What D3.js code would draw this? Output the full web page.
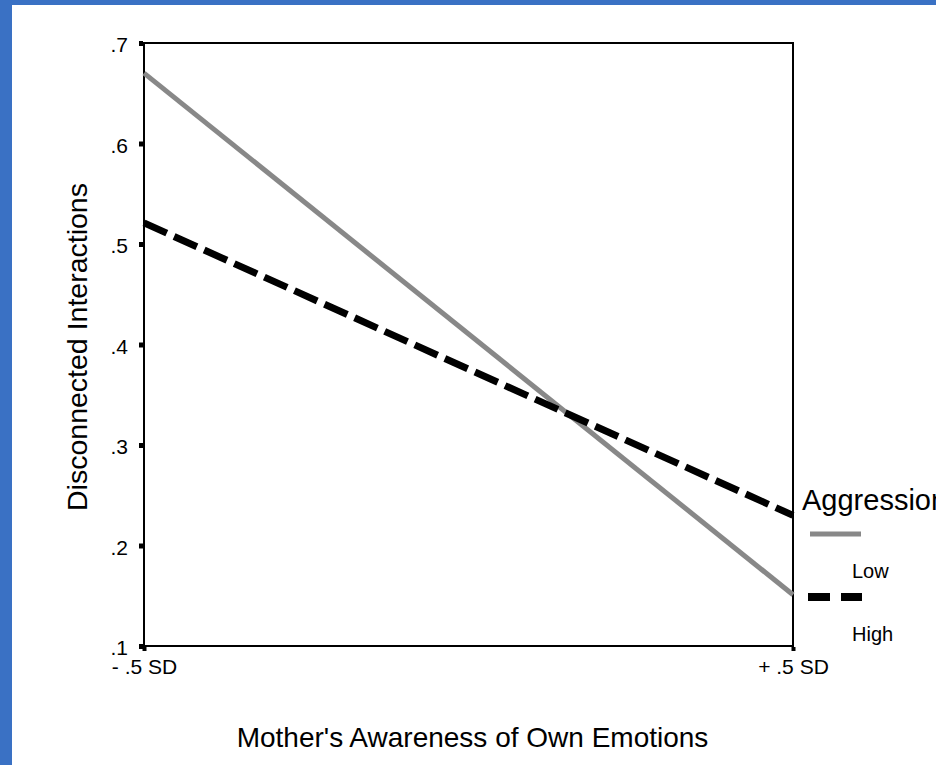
<!DOCTYPE html>
<html>
<head>
<meta charset="utf-8">
<script src="https://cdn.jsdelivr.net/npm/d3@7"></script>
<style>
  body { margin: 0; background: #fff; overflow: hidden; }
  svg { display: block; font-family: "Liberation Sans", Arial, sans-serif; }
</style>
</head>
<body>
<svg></svg>
<script>
let width = 936;
let height = 765;

// data
let xLabels = ['- .5 SD', '+ .5 SD'];
let groups = ['Low', 'High'];
let lowValues = [0.670, 0.151];
let highValues = [0.521, 0.230];
let yTicks = [0.1, 0.2, 0.3, 0.4, 0.5, 0.6, 0.7];

let plotLeft = 144, plotRight = 793, plotTop = 43, plotBottom = 646;

let svg = d3.select('svg')
  .attr('width', width)
  .attr('height', height)

// blue border strips
svg.append('rect').attr('x', 0).attr('y', 0).attr('width', width).attr('height', 5).attr('fill', '#3a71c4')
svg.append('rect').attr('x', 0).attr('y', 0).attr('width', 12).attr('height', height).attr('fill', '#3a71c4')

let xScale = d3.scalePoint()
  .domain(xLabels)
  .range([plotLeft, plotRight])

let yScale = d3.scaleLinear()
  .domain([0.1, 0.7])
  .range([plotBottom, plotTop])

// frame
svg.append('rect')
  .attr('x', plotLeft).attr('y', plotTop)
  .attr('width', plotRight - plotLeft).attr('height', plotBottom - plotTop)
  .attr('fill', 'none').attr('stroke', '#000').attr('stroke-width', 2)

let yAxis = d3.axisLeft(yScale)
  .tickValues(yTicks)
  .tickSize(4)
  .tickPadding(11)
  .tickFormat(d => d3.format('.1f')(d).replace(/^0/, ''))

let gy = svg.append('g')
  .attr('transform', `translate(${plotLeft - 1}, 0)`)
  .call(yAxis)
gy.select('.domain').remove()
gy.selectAll('.tick line').attr('stroke-width', 5)
gy.selectAll('.tick text').attr('font-size', 21).attr('fill', '#000').attr('dy', '0.42em')

let xAxis = d3.axisBottom(xScale)
  .tickSize(4)
  .tickPadding(8)

let gx = svg.append('g')
  .attr('transform', `translate(0, ${plotBottom + 1})`)
  .call(xAxis)
gx.select('.domain').remove()
gx.selectAll('.tick line').attr('stroke-width', 4)
gx.selectAll('.tick text').attr('font-size', 21).attr('fill', '#000')

let line = d3.line()
  .x((d, i) => xScale(xLabels[i]))
  .y(d => yScale(d))

svg.append('path')
  .datum(lowValues)
  .attr('d', line)
  .attr('fill', 'none')
  .attr('stroke', '#888')
  .attr('stroke-width', 5)

svg.append('path')
  .datum(highValues)
  .attr('d', line)
  .attr('fill', 'none')
  .attr('stroke', '#000')
  .attr('stroke-width', 7)
  .attr('stroke-dasharray', '25,8')

// axis titles
svg.append('text')
  .attr('x', (232 + 713) / 2)
  .attr('y', 747)
  .attr('text-anchor', 'middle')
  .attr('font-size', 28)
  .text("Mother's Awareness of Own Emotions")

svg.append('text')
  .attr('transform', 'translate(87, 347) rotate(-90)')
  .attr('text-anchor', 'middle')
  .attr('font-size', 28.5)
  .text('Disconnected Interactions')

// legend
let legend = svg.append('g')
legend.append('text')
  .attr('x', 802).attr('y', 510)
  .attr('font-size', 29)
  .text('Aggression')

legend.append('line')
  .attr('x1', 810).attr('x2', 861).attr('y1', 534).attr('y2', 534)
  .attr('stroke', '#888').attr('stroke-width', 5)
legend.append('line')
  .attr('x1', 808).attr('x2', 862).attr('y1', 597).attr('y2', 597)
  .attr('stroke', '#000').attr('stroke-width', 8).attr('stroke-dasharray', '22,11')

legend.selectAll('.lab')
  .data(groups)
  .enter()
  .append('text')
  .attr('class', 'lab')
  .attr('x', 852)
  .attr('y', (d, i) => [578, 641][i])
  .attr('font-size', 20)
  .text(d => d)
</script>
</body>
</html>
